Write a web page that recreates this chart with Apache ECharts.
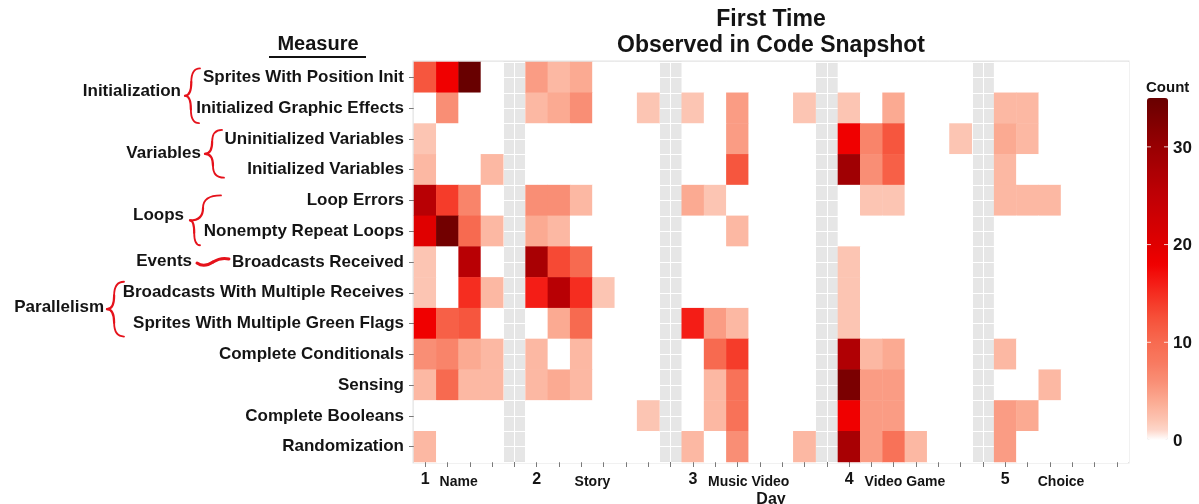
<!DOCTYPE html>
<html><head><meta charset="utf-8">
<script src="https://cdn.jsdelivr.net/npm/echarts@6/dist/echarts.min.js"></script>
<style>html,body{margin:0;padding:0;background:#fff}#c{width:1199px;height:504px}</style>
</head><body><div id="c"></div>
<script>
// ---------------- data ----------------
const measures = [
  'Sprites With Position Init',
  'Initialized Graphic Effects',
  'Uninitialized Variables',
  'Initialized Variables',
  'Loop Errors',
  'Nonempty Repeat Loops',
  'Broadcasts Received',
  'Broadcasts With Multiple Receives',
  'Sprites With Multiple Green Flags',
  'Complete Conditionals',
  'Sensing',
  'Complete Booleans',
  'Randomization'
];
const dayNumbers = ['1', '2', '3', '4', '5'];
const dayProjects = ['Name', 'Story', 'Music Video', 'Video Game', 'Choice'];
const groupNames = ['Initialization', 'Variables', 'Loops', 'Events', 'Parallelism'];
const groupRows = [[0, 1], [2, 3], [4, 5], [6], [7, 8]];
const countTicks = [0, 10, 20, 30];
const countMax = 35;

// one row per measure, one value per snapshot column of the day
const day1 = [
  [12, 18, 35, 0],
  [0, 6, 0, 0],
  [2, 0, 0, 0],
  [3, 0, 0, 3],
  [26, 14, 7, 0],
  [20, 34, 10, 3],
  [2, 0, 26, 0],
  [2, 0, 15, 3],
  [18, 11, 12, 0],
  [6, 7, 4, 3],
  [3, 10, 3, 3],
  [0, 0, 0, 0],
  [3, 0, 0, 0]
];
const day2 = [
  [5, 3, 4, 0, 0, 0],
  [3, 4, 6, 0, 0, 2],
  [0, 0, 0, 0, 0, 0],
  [0, 0, 0, 0, 0, 0],
  [6, 6, 3, 0, 0, 0],
  [4, 3, 0, 0, 0, 0],
  [28, 13, 10, 0, 0, 0],
  [16, 26, 15, 2, 0, 0],
  [0, 4, 10, 0, 0, 0],
  [3, 0, 3, 0, 0, 0],
  [3, 4, 3, 0, 0, 0],
  [0, 0, 0, 0, 0, 2],
  [0, 0, 0, 0, 0, 0]
];
const day3 = [
  [0, 0, 0, 0, 0, 0],
  [2, 0, 5, 0, 0, 2],
  [0, 0, 5, 0, 0, 0],
  [0, 0, 12, 0, 0, 0],
  [4, 2, 0, 0, 0, 0],
  [0, 0, 3, 0, 0, 0],
  [0, 0, 0, 0, 0, 0],
  [0, 0, 0, 0, 0, 0],
  [16, 5, 3, 0, 0, 0],
  [0, 10, 14, 0, 0, 0],
  [0, 3, 9, 0, 0, 0],
  [0, 3, 9, 0, 0, 0],
  [3, 0, 6, 0, 0, 3]
];
const day4 = [
  [0, 0, 0, 0, 0, 0],
  [2, 0, 4, 0, 0, 0],
  [18, 7, 12, 0, 0, 2],
  [29, 6, 11, 0, 0, 0],
  [0, 2, 2, 0, 0, 0],
  [0, 0, 0, 0, 0, 0],
  [2, 0, 0, 0, 0, 0],
  [2, 0, 0, 0, 0, 0],
  [2, 0, 0, 0, 0, 0],
  [27, 3, 4, 0, 0, 0],
  [33, 5, 5, 0, 0, 0],
  [18, 5, 5, 0, 0, 0],
  [28, 5, 9, 3, 0, 0]
];
const day5 = [
  [0, 0, 0, 0, 0, 0],
  [3, 3, 0, 0, 0, 0],
  [4, 3, 0, 0, 0, 0],
  [3, 0, 0, 0, 0, 0],
  [3, 3, 3, 0, 0, 0],
  [0, 0, 0, 0, 0, 0],
  [0, 0, 0, 0, 0, 0],
  [0, 0, 0, 0, 0, 0],
  [0, 0, 0, 0, 0, 0],
  [3, 0, 0, 0, 0, 0],
  [0, 0, 3, 0, 0, 0],
  [5, 4, 0, 0, 0, 0],
  [5, 0, 0, 0, 0, 0]
];

// ---------------- build ----------------
const FONT = '"Liberation Sans", Arial, sans-serif';
const TXT = '#141414';
const dayData = [day1, day2, day3, day4, day5];
const dayStart = [];
const xCats = [];
dayData.forEach((d, di) => {
  dayStart.push(xCats.length);
  for (let k = 0; k < d[0].length; k++) xCats.push('d' + (di + 1) + '_' + (k + 1));
  if (di < dayData.length - 1) xCats.push('gap' + (di + 1));
});
const projectCenters = dayStart.map((s, di) => s + (dayData[di][0].length - 1) / 2);

const heat = [];
dayData.forEach((d, di) => {
  d.forEach((row, r) => {
    row.forEach((v, k) => heat.push([dayStart[di] + k, r, v]));
  });
});

// colour ramp (white -> red -> dark red)
const anchors = [[0,'#ffffff'],[1,'#fdd6ca'],[2,'#fcc5b3'],[4,'#fbaa92'],[6,'#f98e75'],[8,'#f8795f'],
  [10,'#f76a50'],[12,'#f6563e'],[14,'#f53c2a'],[16,'#f41d16'],[18,'#f00000'],[20,'#e00000'],
  [25,'#c00005'],[30,'#980002'],[35,'#680000']];
function hex2rgb(h){return [parseInt(h.slice(1,3),16),parseInt(h.slice(3,5),16),parseInt(h.slice(5,7),16)];}
function colorAt(v){
  for (let i = 0; i < anchors.length - 1; i++) {
    const [a, ca] = anchors[i], [b, cb] = anchors[i + 1];
    if (v >= a && v <= b) {
      const t = (v - a) / (b - a), A = hex2rgb(ca), B = hex2rgb(cb);
      return 'rgb(' + A.map((x, j) => Math.round(x + (B[j] - x) * t)).join(',') + ')';
    }
  }
  return anchors[anchors.length - 1][1];
}
const ramp = [];
for (let v = 0; v <= countMax + 1e-9; v += 0.5) ramp.push(colorAt(v));

const G = {left: 414, top: 62, width: 714, height: 400};
const CB = {left: 1147, top: 98, width: 21, height: 342};
const TICK = '#7a7a7a';

const chart = echarts.init(document.getElementById('c'), null, {renderer: 'canvas'});
chart.setOption({
  animation: false,
  backgroundColor: '#fff',
  grid: {left: G.left, top: G.top, width: G.width, height: G.height, show: true,
         containLabel: false, outerBoundsMode: 'none',
         backgroundColor: '#e6e6e6', borderColor: '#e3e3e3', borderWidth: 3},
  xAxis: [
    {type: 'category', data: xCats, position: 'bottom', gridIndex: 0,
     axisLine: {show: false, onZero: false},
     axisTick: {show: true, alignWithLabel: true, interval: 0, length: 5, lineStyle: {color: TICK, width: 1}},
     axisLabel: {interval: 0, margin: 10, color: TXT, fontFamily: FONT, fontWeight: 'bold', fontSize: 16,
       formatter: (v, i) => { const d = dayStart.indexOf(i); return d >= 0 ? dayNumbers[d] : ''; }},
     splitLine: {show: false},
     name: 'Day', nameLocation: 'middle', nameGap: 30, nameMoveOverlap: false,
     nameTextStyle: {color: TXT, fontFamily: FONT, fontWeight: 'bold', fontSize: 16}},
    {type: 'value', min: -0.5, max: 31.5, interval: 0.5, gridIndex: 0, position: 'top',
     axisLine: {show: false, onZero: false}, axisTick: {show: false}, axisLabel: {show: false},
     splitLine: {show: true, lineStyle: {color: '#ffffff', width: 1}}},
    {type: 'value', min: -0.5, max: 31.5, gridIndex: 0, position: 'bottom', offset: 0,
     axisLine: {show: false, onZero: false}, axisTick: {show: false}, splitLine: {show: false},
     axisLabel: {customValues: projectCenters, margin: 13, color: TXT, fontFamily: FONT, fontWeight: 'bold', fontSize: 14,
       formatter: v => { const i = projectCenters.indexOf(v); return i >= 0 ? dayProjects[i] : ''; }}}
  ],
  yAxis: [
    {type: 'category', data: measures, inverse: true, gridIndex: 0, position: 'left',
     axisLine: {show: false, onZero: false},
     axisTick: {show: true, alignWithLabel: true, interval: 0, length: 5, lineStyle: {color: TICK, width: 1}},
     axisLabel: {interval: 0, margin: 10, color: TXT, fontFamily: FONT, fontWeight: 'bold', fontSize: 17},
     splitLine: {show: false}},
    {type: 'value', min: -0.5, max: 12.5, interval: 0.5, gridIndex: 0, position: 'right',
     axisLine: {show: false, onZero: false}, axisTick: {show: false}, axisLabel: {show: false},
     splitLine: {show: true, lineStyle: {color: '#ffffff', width: 1}}}
  ],
  visualMap: {
    type: 'continuous', min: 0, max: countMax, seriesIndex: 0, calculable: false, hoverLink: false,
    orient: 'vertical', left: CB.left, top: CB.top, itemWidth: CB.width, itemHeight: CB.height,
    padding: 0, text: null, showLabel: false,
    inRange: {color: ramp}
  },
  series: [{
    type: 'heatmap', xAxisIndex: 0, yAxisIndex: 0, data: heat,
    emphasis: {disabled: true}, itemStyle: {borderWidth: 0}
  }]
});

// ---------------- annotations ----------------
const RED = '#e5121b';
const braceGeom = {
  Initialization: {labelRight: 181, tip: 185, topX: 200, botX: 199, dTop: -9, dBot: 15},
  Variables: {labelRight: 201, tip: 205, topX: 222, botX: 224, dTop: -9, dBot: 8},
  Loops: {labelRight: 184, tip: 190, topX: 221, botX: 200, dTop: -5, dBot: 14},
  Events: {labelRight: 192, x1: 197, x2: 229},
  Parallelism: {labelRight: 104, tip: 107, topX: 124, botX: 124, dTop: -11, dBot: 13}
};
const yPix = r => chart.convertToPixel({yAxisIndex: 0}, r);
const graphics = [];
function txt(text, x, y, size, align) {
  graphics.push({type: 'text', z: 100, style: {text, x, y, fill: TXT, align: align || 'left',
    verticalAlign: 'middle', font: 'bold ' + size + 'px ' + FONT}});
}
function quad(x1, y1, cx, cy, x2, y2, w) {
  graphics.push({type: 'bezierCurve', z: 100,
    shape: {x1, y1, x2, y2, cpx1: cx, cpy1: cy},
    style: {stroke: RED, lineWidth: w, fill: null, lineCap: 'round'}});
}
groupNames.forEach((name, gi) => {
  const rows = groupRows[gi];
  const ys = rows.map(yPix);
  const ym = ys.reduce((a, b) => a + b, 0) / ys.length;
  const g = braceGeom[name];
  txt(name, g.labelRight, ym - 1, 17, 'right');
  if (rows.length === 1) {
    const xc = (g.x1 + g.x2) / 2;
    quad(g.x1, ym + 1, g.x1 + 7, ym + 6, xc, ym, 3);
    quad(xc, ym, g.x2 - 8, ym - 5, g.x2, ym - 3, 3);
  } else {
    const yt = ys[0] + g.dTop, yb = ys[ys.length - 1] + g.dBot, yc = (yt + yb) / 2;
    const xm1 = g.tip + (g.topX - g.tip) * 0.42, xm2 = g.tip + (g.botX - g.tip) * 0.42;
    quad(g.topX, yt, xm1, yt, xm1, (yt + yc) / 2, 1.8);
    quad(xm1, (yt + yc) / 2, xm1, yc, g.tip, yc, 2.2);
    quad(g.tip, yc, xm2, yc, xm2, (yc + yb) / 2, 2.2);
    quad(xm2, (yc + yb) / 2, xm2, yb, g.botX, yb, 1.8);
  }
});
// titles
txt('First Time', G.left + G.width / 2, 20, 23, 'center');
txt('Observed in Code Snapshot', G.left + G.width / 2, 46, 23, 'center');
txt('Measure', 318, 44, 20, 'center');
graphics.push({type: 'line', z: 100, shape: {x1: 269, y1: 57, x2: 366, y2: 57}, style: {stroke: '#111', lineWidth: 2}});
// colour bar title, labels and ticks
txt('Count', CB.left - 1, 88, 15, 'left');
countTicks.forEach(v => {
  const y = CB.top + CB.height * (1 - v / countMax);
  txt(String(v), CB.left + CB.width + 5, y + 1, 17, 'left');
  if (v > 0) {
    graphics.push({type: 'line', z: 100, shape: {x1: CB.left, y1: y, x2: CB.left + 4, y2: y}, style: {stroke: 'rgba(255,255,255,0.8)', lineWidth: 1}});
    graphics.push({type: 'line', z: 100, shape: {x1: CB.left + CB.width - 4, y1: y, x2: CB.left + CB.width, y2: y}, style: {stroke: 'rgba(255,255,255,0.8)', lineWidth: 1}});
  }
});
chart.setOption({graphic: graphics});
</script></body></html>
